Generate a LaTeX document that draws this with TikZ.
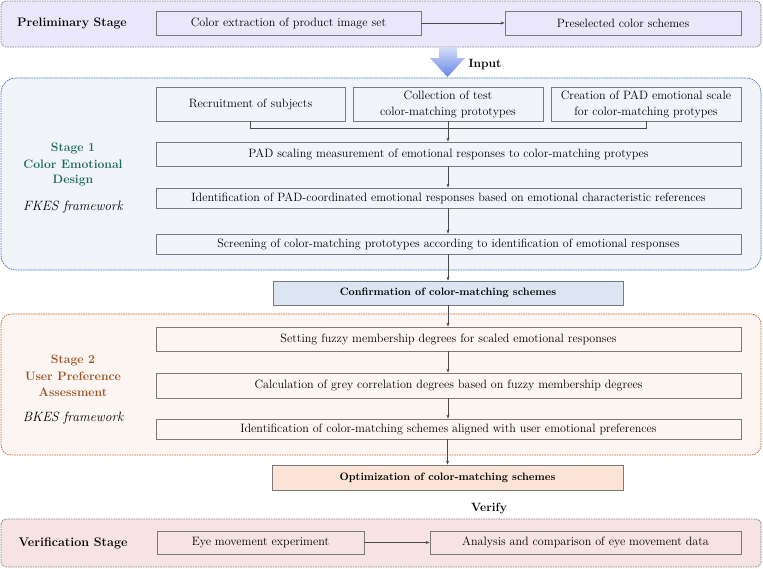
\documentclass[tikz,border=0pt]{standalone}
\usetikzlibrary{arrows.meta,calc}
\definecolor{prelimfill}{HTML}{E9E7F9}
\definecolor{sonefill}{HTML}{F1F5FA}
\definecolor{stwofill}{HTML}{FDF5F2}
\definecolor{verfill}{HTML}{F7E3E3}
\definecolor{conffill}{HTML}{DCE6F2}
\definecolor{optfill}{HTML}{FBE3D5}
\definecolor{boxline}{HTML}{7A7A7A}
\definecolor{arrline}{HTML}{4A4A4A}
\definecolor{sonetxt}{HTML}{1E6B5C}
\definecolor{stwotxt}{HTML}{9A5527}
\definecolor{sonedash}{HTML}{4472C4}
\definecolor{stwodash}{HTML}{C0642A}
\definecolor{greydash}{HTML}{7F7F7F}
\definecolor{arrtop}{HTML}{D4DEF7}
\definecolor{arrbot}{HTML}{6586E6}
\begin{document}
\begin{tikzpicture}[x=1pt,y=-1pt,
  every node/.style={font=\fontsize{12.1}{16}\selectfont},
  stepbox/.style={draw=boxline, line width=0.8pt, inner sep=0pt, align=center},
  keybox/.style={stepbox, font=\fontsize{10.7}{13}\selectfont\bfseries},
  flow/.style={draw=arrline, line width=0.8pt, -{Stealth[length=4pt,width=3pt]}},
  plain/.style={draw=arrline, line width=0.8pt},
  stagebox/.style={line width=0.7pt, dash pattern=on 1.6pt off 0.9pt},
  stagelabel/.style={font=\fontsize{12.3}{14}\selectfont\bfseries},
  colourlabel/.style={font=\fontsize{12.2}{14}\selectfont\bfseries},
  fwlabel/.style={font=\fontsize{13.5}{15}\selectfont\itshape}
]
\useasboundingbox (0,0) rectangle (763,568);

% stage containers
\path[stagebox, draw=greydash, fill=prelimfill, rounded corners=5pt] (1,1) rectangle (761,47);
\path[stagebox, draw=sonedash, fill=sonefill, rounded corners=15pt] (1,78) rectangle (761,270);
\path[stagebox, draw=stwodash, fill=stwofill, rounded corners=10pt] (1,314) rectangle (761,455);
\path[stagebox, draw=greydash, fill=verfill, rounded corners=5pt] (1,519) rectangle (761,567);

% input arrow
\shade[top color=arrtop, bottom color=arrbot]
  (439,47) -- (457,47) -- (457,58) -- (465,58) -- (447.5,77) -- (430,58) -- (439,58) -- cycle;
\node[font=\fontsize{12}{14}\selectfont\bfseries] (inp) at (485,65) {Input};
\node[font=\fontsize{12}{14}\selectfont\bfseries] (ver) at (489,508) {Verify};

% preliminary stage
\node[stagelabel] (pl) at (72,23) {Preliminary Stage};
\node[stepbox, minimum width=265pt, minimum height=24pt] (ce) at (288.5,23) {Color extraction of product image set};
\node[stepbox, minimum width=236pt, minimum height=24pt] (ps) at (623,23) {Preselected color schemes};
\draw[flow] (ce) -- (ps);

% stage 1
\node[colourlabel, text=sonetxt] (s1a) at (73,148) {Stage 1};
\node[colourlabel, text=sonetxt] (s1b) at (73,164.5) {Color Emotional};
\node[colourlabel, text=sonetxt] (s1c) at (73,181) {Design};
\node[fwlabel] (s1f) at (73,207) {FKES framework};
\node[stepbox, minimum width=189pt, minimum height=34pt] (r1) at (250.5,104) {Recruitment of subjects};
\node[stepbox, minimum width=190pt, minimum height=34pt] (r2) at (448,104) {Collection of test\\color-matching prototypes};
\node[stepbox, minimum width=190pt, minimum height=34pt] (r3) at (646,104) {Creation of PAD emotional scale\\for color-matching protypes};
\node[stepbox, minimum width=585pt, minimum height=24pt] (pad) at (448.5,154) {PAD scaling measurement of emotional responses to color-matching protypes};
\node[stepbox, minimum width=585pt, minimum height=20pt] (idn) at (448.5,198) {Identification of PAD-coordinated emotional responses based on emotional characteristic references};
\node[stepbox, minimum width=585pt, minimum height=20pt] (scr) at (448.5,244) {Screening of color-matching prototypes according to identification of emotional responses};
\draw[plain] (r1.south) -- ++(0,7) -| (r3.south);
\draw[flow] (r2.south) -- (r2.south |- pad.north);
\draw[flow] (pad.south -| r2.south) -- (r2.south |- idn.north);
\draw[flow] (idn.south -| r2.south) -- (r2.south |- scr.north);

\node[keybox, fill=conffill, minimum width=350pt, minimum height=24pt] (conf) at (448,293) {Confirmation of color-matching schemes};
\draw[flow] (scr.south -| conf.north) -- (conf.north);

% stage 2
\node[colourlabel, text=stwotxt] (s2a) at (73,360) {Stage 2};
\node[colourlabel, text=stwotxt] (s2b) at (73,376) {User Preference};
\node[colourlabel, text=stwotxt] (s2c) at (73,392) {Assessment};
\node[fwlabel] (s2f) at (73,418) {BKES framework};
\node[stepbox, minimum width=585pt, minimum height=24pt] (set) at (448.5,339) {Setting fuzzy membership degrees for scaled emotional responses};
\node[stepbox, minimum width=585pt, minimum height=25pt] (calc) at (448.5,385.5) {Calculation of grey correlation degrees based on fuzzy membership degrees};
\node[stepbox, minimum width=585pt, minimum height=20pt] (idp) at (448.5,429) {Identification of color-matching schemes aligned with user emotional preferences};
\draw[flow] (conf.south) -- (conf.south |- set.north);
\draw[flow] (set.south -| conf.south) -- (conf.south |- calc.north);
\draw[flow] (calc.south -| conf.south) -- (conf.south |- idp.north);

\node[keybox, fill=optfill, minimum width=351pt, minimum height=25pt] (opt) at (447.5,477.5) {Optimization of color-matching schemes};
\draw[flow] (idp.south -| opt.north) -- (opt.north);

% verification stage
\node[stagelabel, font=\fontsize{12.5}{14}\selectfont\bfseries] (vl) at (73,543) {Verification Stage};
\node[stepbox, minimum width=207pt, minimum height=23pt] (eye) at (260.5,542.5) {Eye movement experiment};
\node[stepbox, minimum width=311pt, minimum height=23pt] (ana) at (585.5,542.5) {Analysis and comparison of eye movement data};
\draw[flow] (eye) -- (ana);
\end{tikzpicture}
\end{document}
